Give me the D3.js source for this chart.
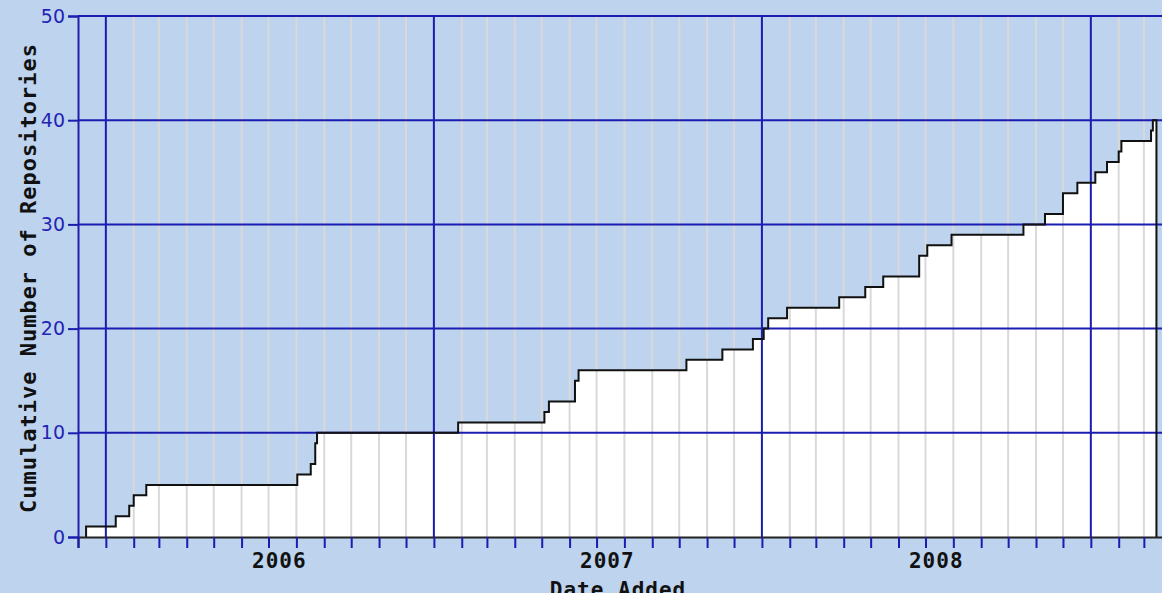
<!DOCTYPE html>
<html>
<head>
<meta charset="utf-8">
<script src="https://cdn.jsdelivr.net/npm/d3@7"></script>
<style>
  body { margin: 0; background: #bdd3ee; overflow: hidden; }
  .yTick text { font-family: "DejaVu Sans", sans-serif; font-size: 19px; fill: #2424b4; }
  .label { font-family: "DejaVu Sans Mono", monospace; font-weight: bold; font-size: 21px; letter-spacing: 1px; fill: #111; }
</style>
</head>
<body>
<div id="chart"></div>
<script>
// dates a repository was added, with the running total on that day
var addedDates = ["2005-12-10", "2006-01-12", "2006-01-27", "2006-02-01", "2006-02-15",
  "2006-08-02", "2006-08-17", "2006-08-22", "2006-08-24",
  "2007-01-28", "2007-05-04", "2007-05-09", "2007-06-07", "2007-06-11",
  "2007-10-09", "2007-11-18", "2007-12-22",
  "2008-01-03", "2008-01-08", "2008-01-29", "2008-03-27", "2008-04-25", "2008-05-15",
  "2008-06-24", "2008-07-03", "2008-07-30", "2008-10-18", "2008-11-11", "2008-12-01", "2008-12-17",
  "2009-01-06", "2009-01-19", "2009-02-01", "2009-02-04", "2009-03-09", "2009-03-11"];
var cumulativeCounts = [1, 2, 3, 4, 5,
  6, 7, 9, 10,
  11, 12, 13, 15, 16,
  17, 18, 19,
  20, 21, 22, 23, 24, 25,
  27, 28, 29, 30, 31, 33, 34,
  35, 36, 37, 38, 39, 40];
var lastDate = "2009-03-15";
var yTicks = [0, 10, 20, 30, 40, 50];
var yearLabels = ["2006", "2007", "2008"];
var axisStart = "2005-12-01", axisEnd = "2009-04-01";

var width = 1162, height = 593;
var plotLeft = 78, plotTop = 16, plotBottom = 537;
var gridBlue = "#1c1cb0";

var parse = d3.utcParse("%Y-%m-%d");

var svg = d3.select("#chart").append("svg")
  .attr("width", width).attr("height", height);

svg.append("rect").attr("width", width).attr("height", height).attr("fill", "#bdd3ee");

var x = d3.scaleUtc().domain([parse(axisStart), parse(axisEnd)]).range([plotLeft, plotLeft + 1217 * 0.8987]);
var y = d3.scaleLinear().domain([0, 50]).range([plotBottom, plotTop]);

// step series
var series = [{d: parse(addedDates[0]), v: 0}];
for (var i = 0; i < addedDates.length; i++) {
  series.push({d: parse(addedDates[i]), v: cumulativeCounts[i]});
}
series.push({d: parse(lastDate), v: cumulativeCounts[cumulativeCounts.length - 1]});

var area = d3.area().curve(d3.curveStepAfter)
  .x(function(p) { return x(p.d); })
  .y0(y(0))
  .y1(function(p) { return y(p.v); });

svg.append("path").datum(series).attr("d", area).attr("fill", "#fff");

// monthly grid
var months = d3.utcMonth.range(parse(axisStart), parse(axisEnd));
svg.append("g").selectAll("line")
  .data(months.filter(function(m) { return m.getUTCMonth() != 0; }))
  .enter().append("line")
  .attr("x1", function(m) { return x(m); }).attr("x2", function(m) { return x(m); })
  .attr("y1", plotTop).attr("y2", plotBottom)
  .attr("stroke", "#d9d9d9").attr("stroke-width", 2);

// major grid
svg.append("g").selectAll("line")
  .data(yTicks.slice(1))
  .enter().append("line")
  .attr("x1", plotLeft).attr("x2", width)
  .attr("y1", function(d) { return y(d); }).attr("y2", function(d) { return y(d); })
  .attr("stroke", gridBlue).attr("stroke-width", 2);

svg.append("g").selectAll("line")
  .data(months.filter(function(m) { return m.getUTCMonth() == 0; }))
  .enter().append("line")
  .attr("x1", function(m) { return x(m); }).attr("x2", function(m) { return x(m); })
  .attr("y1", plotTop).attr("y2", plotBottom)
  .attr("stroke", gridBlue).attr("stroke-width", 2);

// step outline, dropping back to zero at the end
var outline = series.concat([{d: parse(lastDate), v: 0}]);
var line = d3.line().curve(d3.curveStepAfter)
  .x(function(p) { return x(p.d); })
  .y(function(p) { return y(p.v); });
svg.append("path").datum(outline).attr("d", line)
  .attr("fill", "none").attr("stroke", "#111").attr("stroke-width", 2);

// axes
var xAxis = svg.append("g")
  .attr("transform", "translate(0," + plotBottom + ")")
  .call(d3.axisBottom(x).ticks(d3.utcMonth.every(1)).tickSize(11).tickFormat(""));
xAxis.select(".domain").attr("stroke", "#222").attr("stroke-width", 2);
xAxis.selectAll(".tick line").attr("stroke", gridBlue).attr("stroke-width", 2);

var yAxis = svg.append("g")
  .attr("class", "yTick")
  .attr("transform", "translate(" + plotLeft + ",0)")
  .call(d3.axisLeft(y).tickValues(yTicks).tickSize(10).tickPadding(3));
yAxis.select(".domain").attr("stroke", gridBlue).attr("stroke-width", 2);
yAxis.selectAll(".tick line").attr("stroke", gridBlue).attr("stroke-width", 2);
yAxis.selectAll("text").attr("font-family", null).attr("font-size", null).attr("fill", null);

svg.append("g").selectAll("text")
  .data(yearLabels)
  .enter().append("text")
  .attr("class", "label")
  .attr("x", function(yr) { return x(parse(yr + "-07-13")); })
  .attr("y", 568)
  .attr("text-anchor", "middle")
  .text(function(yr) { return yr; });

svg.append("text")
  .attr("class", "label")
  .attr("x", 618).attr("y", 597)
  .attr("text-anchor", "middle")
  .text("Date Added");

svg.append("text")
  .attr("class", "label")
  .attr("transform", "translate(36,278) rotate(-90)")
  .attr("text-anchor", "middle")
  .style("font-size", "22px")
  .text("Cumulative Number of Repositories");
</script>
</body>
</html>
